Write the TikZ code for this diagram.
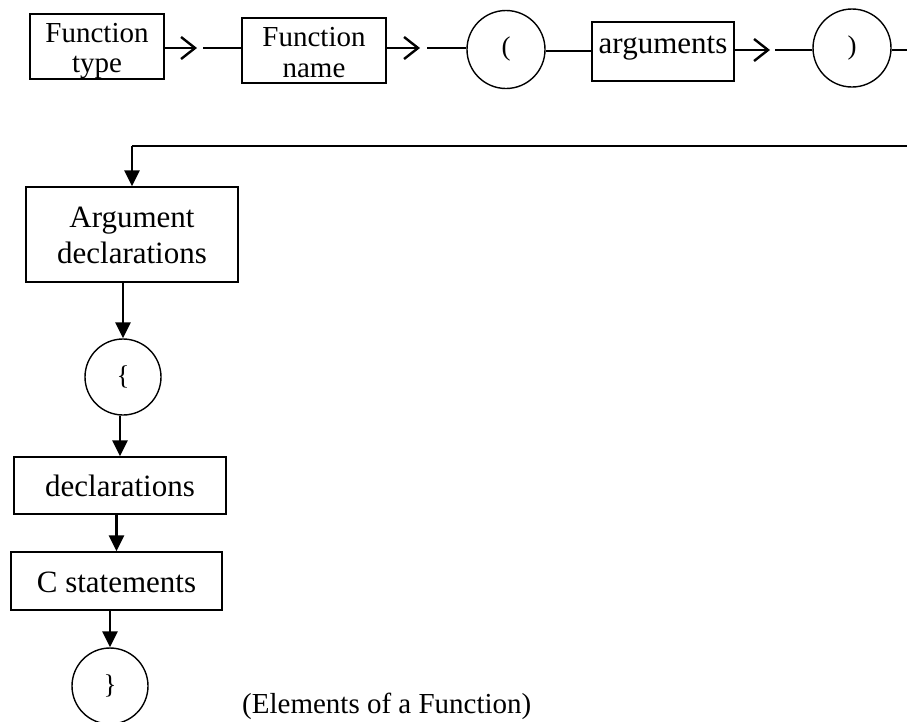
\documentclass[tikz,border=0pt]{standalone}
\usepackage{fontspec}
\setmainfont{Liberation Serif}
\usetikzlibrary{arrows.meta,calc}
\begin{document}
\begin{tikzpicture}[x=1pt,y=-1pt,
  box/.style={draw,line width=1.4pt,inner sep=0pt,align=center,font=\fontsize{31}{36}\selectfont},
  lbl/.style={anchor=base,inner sep=0pt,font=\fontsize{29}{30}\selectfont},
  lblb/.style={anchor=base,inner sep=0pt,font=\fontsize{31}{36}\selectfont},
  circ/.style={draw,circle,line width=1.4pt,inner sep=0pt,minimum size=78pt,font=\fontsize{27}{28}\selectfont},
  conn/.style={line width=1.8pt},
  openarr/.style={line width=2.6pt,-{Straight Barb[length=14pt,width=22pt,line width=2.4pt]}},
  downarr/.style={line width=2.6pt,-{Triangle[length=16pt,width=15pt]}}]
\useasboundingbox (0,0) rectangle (907,721);
% top row
\node[box,minimum width=134pt,minimum height=65pt] (ft) at (97,46.5) {};
\node[lbl] (ft1) at (97,42) {Function};
\node[lbl] (ft2) at (97,72) {type};
\node[box,minimum width=144pt,minimum height=65pt] (fn) at (314,50.5) {};
\node[lbl] (fn1) at (314,46) {Function};
\node[lbl] (fn2) at (314,77) {name};
\node[circ] (lp) at (506,49.5) {(};
\node[box,minimum width=142pt,text height=31pt,text depth=28pt] (args) at (663,51.5) {arguments};
\node[circ] (rp) at (852,48) {)};
% left column
\node[box,minimum width=212pt,minimum height=95pt] (ad) at (132,234.5) {};
\node[lblb] (ad1) at (132,227) {Argument};
\node[lblb] (ad2) at (132,263) {declarations};
\node[circ,minimum size=76pt] (lb) at (123,377) {\{};
\node[box,minimum width=212pt,text height=39pt,text depth=18pt] (decl) at (120,485.5) {declarations};
\node[box,minimum width=211pt,text height=40pt,text depth=18pt] (cs) at (116.5,581) {C statements};
\node[circ,minimum size=76pt] (rb) at (110,686) {\}};
\node[anchor=base west,inner sep=0pt,font=\fontsize{29}{30}\selectfont] (cap) at (242,713) {(Elements of a Function)};
% top connectors
\coordinate (a1) at (197,48); \coordinate (b1) at (203,48);
\draw[openarr] (ft.east |- a1) -- (a1);
\draw[conn] (b1) -- (fn.west |- b1);
\coordinate (a2) at (420,48); \coordinate (b2) at (427,48);
\draw[openarr] (fn.east |- a2) -- (a2);
\draw[conn] (b2) -- (lp.west |- b2);
\coordinate (a3) at (548,51);
\draw[conn] (lp.east |- a3) -- (args.west |- a3);
\coordinate (a4) at (770,50); \coordinate (b4) at (775,50);
\draw[openarr] (args.east |- a4) -- (a4);
\draw[conn] (b4) -- (rp.west |- b4);
\coordinate (e1) at (907,50);
\draw[conn] (rp.east |- e1) -- (e1);
\coordinate (e2) at (907,146);
\draw[conn] (e2) -- (ad.north |- e2);
\draw[downarr] (ad.north |- e2) -- (ad.north);
% vertical connectors
\draw[downarr] (ad.south -| lb) -- (lb.north);
\draw[downarr] (lb.south -| decl.north) -- (decl.north);
\draw[downarr] (decl.south -| cs.north) -- (cs.north);
\draw[downarr] (cs.south -| rb.north) -- (rb.north);
\end{tikzpicture}
\end{document}
